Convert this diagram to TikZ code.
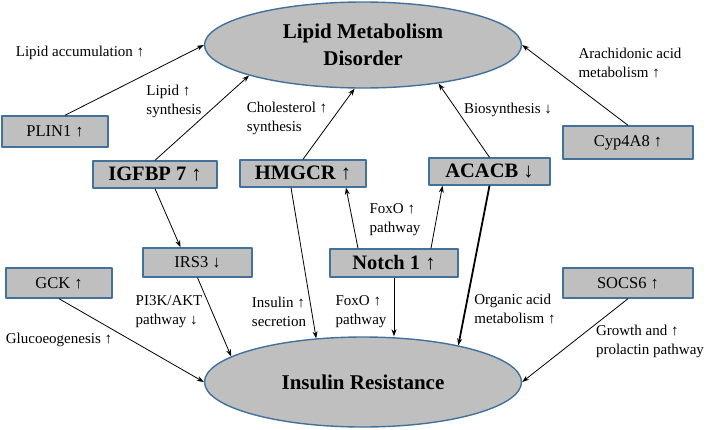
\documentclass[tikz,border=0pt]{standalone}
\usepackage{fontspec}
\setmainfont{Liberation Serif}
\usetikzlibrary{arrows.meta,shapes.geometric}
\definecolor{boxgray}{HTML}{BFBFBF}
\definecolor{boxblue}{HTML}{41719C}
\begin{document}
\begin{tikzpicture}[x=1pt,y=-1pt,>={Stealth[length=7pt,width=5pt]}, line join=round,
	gene/.style={draw=boxblue, fill=boxgray, line width=1.4pt, inner sep=0pt, font=\fontsize{16.5}{20}\selectfont},
	hub/.style={gene, font=\fontsize{20.5}{26}\selectfont\bfseries},
	oval/.style={ellipse, draw=boxblue, fill=boxgray, line width=1.4pt, inner sep=0pt, align=center, font=\fontsize{21}{27}\selectfont\bfseries},
	lbl/.style={align=left, inner sep=0pt, font=\fontsize{15}{19}\selectfont},
	link/.style={->, line width=0.8pt}]
	\useasboundingbox (0,0) rectangle (709,429);
	% ellipses
	\node[oval, minimum width=317pt, minimum height=86pt] (lmd) at (363,45) {Lipid Metabolism\\Disorder};
	\node[oval, minimum width=317pt, minimum height=90pt] (ins) at (363,382) {Insulin Resistance};
	% genes
	\node[gene, minimum width=106pt, minimum height=31pt] (plin) at (55,131.5) {PLIN1 ↑};
	\node[hub, minimum width=124pt, minimum height=27pt] (igf) at (155,174.5) {IGFBP 7 ↑};
	\node[hub, minimum width=126pt, minimum height=27pt] (hmg) at (303,173.5) {HMGCR ↑};
	\node[hub, minimum width=121pt, minimum height=27pt] (aca) at (489.5,171.5) {ACACB ↓};
	\node[gene, minimum width=130pt, minimum height=33pt] (cyp) at (628,142.5) {Cyp4A8 ↑};
	\node[gene, minimum width=109pt, minimum height=29pt] (irs) at (197.5,262.5) {IRS3 ↓};
	\node[gene, minimum width=106pt, minimum height=30pt] (gck) at (59,283) {GCK ↑};
	\node[hub, minimum width=128pt, minimum height=28pt] (notch) at (394,263) {Notch 1 ↑};
	\node[gene, minimum width=130pt, minimum height=30pt] (socs) at (628,283) {SOCS6 ↑};
	% labels
	\node[lbl] (acc) at (80,53) {Lipid accumulation ↑};
	\node[lbl] (lsyn) at (174,101) {Lipid ↑\\synthesis};
	\node[lbl] (chol) at (287,118) {Cholesterol ↑\\synthesis};
	\node[lbl] (bio) at (508,110) {Biosynthesis ↓};
	\node[lbl] (ara) at (630,63) {Arachidonic acid\\metabolism ↑};
	\node[lbl] (foxa) at (395,220) {FoxO ↑\\pathway};
	\node[lbl] (pik) at (169,312) {PI3K/AKT\\pathway ↓};
	\node[lbl] (glu) at (59,340) {Glucoeogenesis ↑};
	\node[lbl] (isec) at (279,312) {Insulin ↑\\secretion};
	\node[lbl] (foxb) at (361,312) {FoxO ↑\\pathway};
	\node[lbl] (org) at (515,309) {Organic acid\\metabolism ↑};
	\node[lbl] (grow) at (650,341) {Growth and ↑\\prolactin pathway};
	% arrows to lipid disorder
	\draw[link] ([xshift=10pt]plin.north) -- (lmd.west);
	\draw[link] (igf.north) -- (lmd.195);
	\draw[link] (hmg.north) -- (lmd.259);
	\draw[link] (aca.north) -- (lmd.333);
	\draw[link] (cyp.north) -- (lmd.east);
	% arrows to insulin resistance
	\draw[link] (igf.south) -- ([xshift=-17pt]irs.north);
	\draw[link] (irs.south) -- (ins.169);
	\draw[link] (gck.south) -- (ins.west);
	\draw[link] ([xshift=-12pt]hmg.south) -- (ins.137);
	\draw[link] ([xshift=-36pt]notch.north) -- ([xshift=43pt]hmg.south);
	\draw[link] ([xshift=37pt]notch.north) -- ([xshift=-47pt]aca.south);
	\draw[link] (notch.south) -- (notch.south |- ins.north);
	\draw[link, line width=1.8pt] (aca.south) -- (ins.21);
	\draw[link] (socs.south) -- (ins.east);
\end{tikzpicture}
\end{document}
